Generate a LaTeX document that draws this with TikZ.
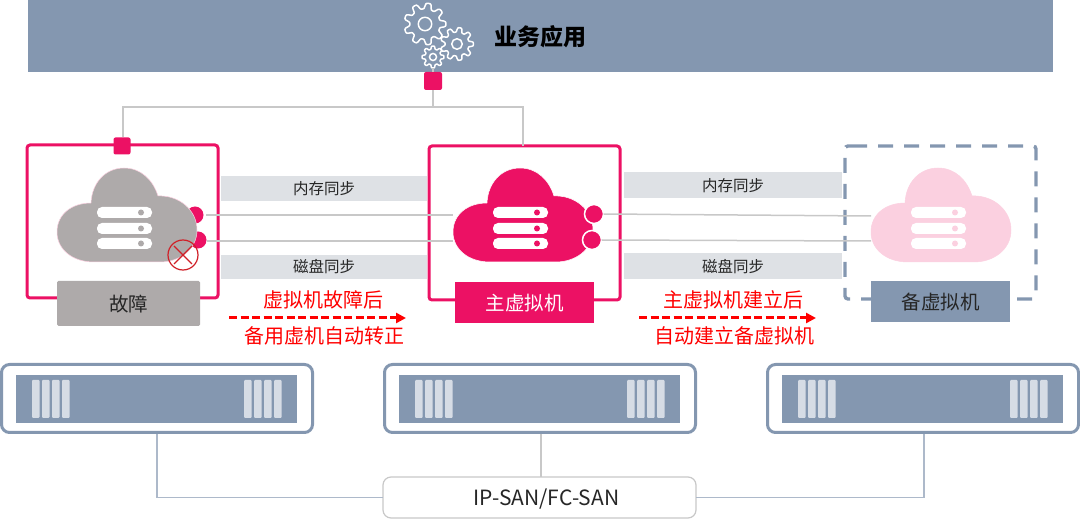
\documentclass[tikz,border=0pt]{standalone}
\usepackage{fontspec}
\setmainfont{Noto Sans CJK SC}
\usetikzlibrary{arrows.meta}
\definecolor{slate}{HTML}{8497B0}
\definecolor{rose}{HTML}{EC1164}
\definecolor{ash}{HTML}{AEAAAA}
\definecolor{blush}{HTML}{FBD0E0}
\definecolor{barg}{HTML}{DEE1E5}
\definecolor{wire}{HTML}{C8C8C8}
\definecolor{pale}{HTML}{D6DCE5}
\definecolor{wireb}{HTML}{ADB9CA}
\definecolor{redx}{HTML}{D02028}
\newcommand{\lowered}[2]{\raisebox{-#1pt}[\height][\depth]{#2}}
\tikzset{
  x=1pt,y=-1pt,
  box/.style={inner sep=0pt,outer sep=0pt,anchor=center},
  vmbox/.style={box,draw=rose,line width=3pt,rounded corners=3pt,fill=white},
  tag/.style={box,font=\fontsize{19.5}{21}\selectfont},
  syncbar/.style={box,fill=barg,font=\fontsize{15.5}{17}\selectfont,text=black!85,minimum height=25pt},
  note/.style={box,text=red,font=\fontsize{20}{22}\selectfont},
  moveline/.style={red,line width=3pt,dash pattern=on 8pt off 3.5pt,-{Triangle[length=10pt,width=10pt]}},
  wireline/.style={wire,line width=1.5pt},
  sanline/.style={wireb,line width=1.5pt},
  joint/.style={box,fill=rose,rounded corners=2pt,minimum width=18pt,minimum height=18pt},
  gearline/.style={white,line width=1.5pt},
}
\newcommand{\vmcloud}[3]{%
  \begin{scope}[xshift=#1pt]
  \fill[#2,draw=#3,line width=.5pt] (490,262) .. controls (468,262) and (453,249) .. (453,232)
    .. controls (453,214) and (468,203) .. (487,203)
    .. controls (488,182) and (502,168) .. (520,168)
    .. controls (537,168) and (549,180) .. (554,196)
    .. controls (575,195) and (593,210) .. (593,230)
    .. controls (593,250) and (575,262) .. (556,262) -- cycle;
  \foreach \yy in {207,223,238}{
    \fill[white,rounded corners=5pt] (493,\yy) rectangle (548,\yy+11);
    \fill[#2] (537,\yy+5.5) circle (3);
  }
  \end{scope}}
\newcommand{\rack}[1]{%
  \begin{scope}[xshift=#1pt]
  \fill[white,draw=slate,line width=3pt,rounded corners=8pt] (1.5,364.5) rectangle (312.5,432.5);
  \fill[slate] (16,375) rectangle (297,423);
  \foreach \xx in {32,42,52,62,244,254,264,274}{
    \fill[pale,rounded corners=1pt] (\xx,380) rectangle (\xx+7.5,418);
  }
  \end{scope}}
\newcommand{\gear}[4]{%
  \draw[gearline] plot[domain=0:360,samples=121,smooth cycle] ({#1+#3*(.86+.14*tanh(2.2*cos(#4*\x)))*cos(\x)},{#2+#3*(.86+.14*tanh(2.2*cos(#4*\x)))*sin(\x)});
  \draw[gearline] (#1,#2) circle ({#3*.32});}
\begin{document}
\begin{tikzpicture}
\useasboundingbox (0,0) rectangle (1080,521);
% banner
\fill[slate] (28,0) rectangle (1053,72);
\node[box,font=\fontsize{23}{25}\selectfont\bfseries,text=black] (biz) at (540,37) {业务应用};
\gear{425}{24}{21}{9}
\gear{457}{44}{16.5}{9}
\gear{433}{57}{11}{8}
\coordinate (gearfoot) at (433,68);
\node[joint] (topjoint) at (433,81) {};
\draw[wireline] (gearfoot) -- (topjoint.north);
% frames
\node[vmbox,minimum width=191pt,minimum height=153pt] (failbox) at (122.5,221.5) {};
\node[vmbox,minimum width=191pt,minimum height=154pt] (mainbox) at (524.5,223) {};
\node[box,minimum width=191pt,minimum height=153pt] (backbox) at (940.5,222.5) {};
\coordinate (backstart) at (852,146);
\draw[slate,line width=3.4pt,dash pattern=on 15pt off 11pt,rounded corners=3pt] (backstart) -- (backbox.north east) -- (backbox.south east) -- (backbox.south west) -- (backbox.north west) -- (backstart);
% sync bars
\node[syncbar,minimum width=206pt] (bar1) at (324,188.5) {内存同步};
\node[syncbar,minimum width=206pt,minimum height=24pt] (bar2) at (324,267) {磁盘同步};
\node[syncbar,minimum width=218pt,minimum height=26pt] (bar3) at (733,185) {\lowered{1}{内存同步}};
\node[syncbar,minimum width=218pt,minimum height=26pt] (bar4) at (733,266) {\lowered{1}{磁盘同步}};
% tree wires
\coordinate (jc) at (433,107);
\coordinate (jl) at (123,107);
\coordinate (jr) at (523,107);
\node[joint,minimum width=17pt,minimum height=17pt] (failjoint) at (122,146) {};
\draw[wireline] (topjoint.south) -- (jc);
\draw[wireline] (failjoint.north -| jl) -- (jl) -- (jr) -- (mainbox.north -| jr);
% fail cloud
\fill[rose] (195,215) circle (8.5);
\fill[rose] (198,240) circle (8.5);
\vmcloud{-396}{ash}{blush}
% main cloud
\vmcloud{0}{rose}{white}
\node[box,circle,fill=rose,draw=white,line width=1.5pt,minimum size=19pt] (dot1) at (594,214) {};
\node[box,circle,fill=rose,draw=white,line width=1.5pt,minimum size=19pt] (dot2) at (592,240) {};
% backup cloud
\vmcloud{418}{blush}{blush}
% sync wires
\coordinate (fa) at (206,215);
\coordinate (fb) at (207,241);
\coordinate (ma) at (453,215);
\coordinate (mb) at (453,241);
\coordinate (ba) at (871,216);
\coordinate (bb) at (871,241);
\draw[wireline] (fa) -- (ma);
\draw[wireline] (fb) -- (mb);
\draw[wireline] (dot1.east) -- (ba);
\draw[wireline] (dot2.east) -- (bb);
% failure mark
\draw[redx,line width=1.2pt] (183,255) circle (15);
\draw[redx,line width=1.2pt] (174,246) -- (192,264) (192,246) -- (174,264);
% tags
\node[tag,fill=ash,text=black!85,rounded corners=1.5pt,minimum width=143pt,minimum height=45pt] (failtag) at (128.5,303.5) {\lowered{1}{故障}};
\node[tag,fill=rose,text=white,minimum width=139pt,minimum height=41pt] (maintag) at (524.5,302.5) {\lowered{1}{主虚拟机}};
\node[tag,fill=slate,text=black!85,minimum width=139pt,minimum height=41pt] (backtag) at (940.5,301.5) {\lowered{1}{备虚拟机}};
% notes
\node[note] (n1) at (323,300) {虚拟机故障后};
\node[note] (n2) at (324,336) {备用虚机自动转正};
\node[note] (n3) at (733,300) {主虚拟机建立后};
\node[note] (n4) at (734,336) {自动建立备虚拟机};
\coordinate (a1s) at (229,318); \coordinate (a1e) at (406,318);
\coordinate (a2s) at (639,318); \coordinate (a2e) at (816,318);
\draw[moveline] (a1s) -- (a1e);
\draw[moveline] (a2s) -- (a2e);
% storage
\rack{0}\rack{383}\rack{766}
\node[box,draw=wire,fill=white,line width=1.2pt,rounded corners=8pt,minimum width=313pt,minimum height=41pt,font=\fontsize{21}{23}\selectfont,text=black!85] (san) at (539.5,497.5) {\hspace*{14pt}\lowered{2}{IP-SAN/FC-SAN}};
\coordinate (r1) at (157,434);
\coordinate (r2) at (541,434);
\coordinate (r3) at (924,434);
\draw[sanline] (r1) |- (san.west);
\draw[sanline] (r3) |- (san.east);
\draw[wire,line width=1.2pt] (r2) -- (san.north -| r2);
\end{tikzpicture}
\end{document}
